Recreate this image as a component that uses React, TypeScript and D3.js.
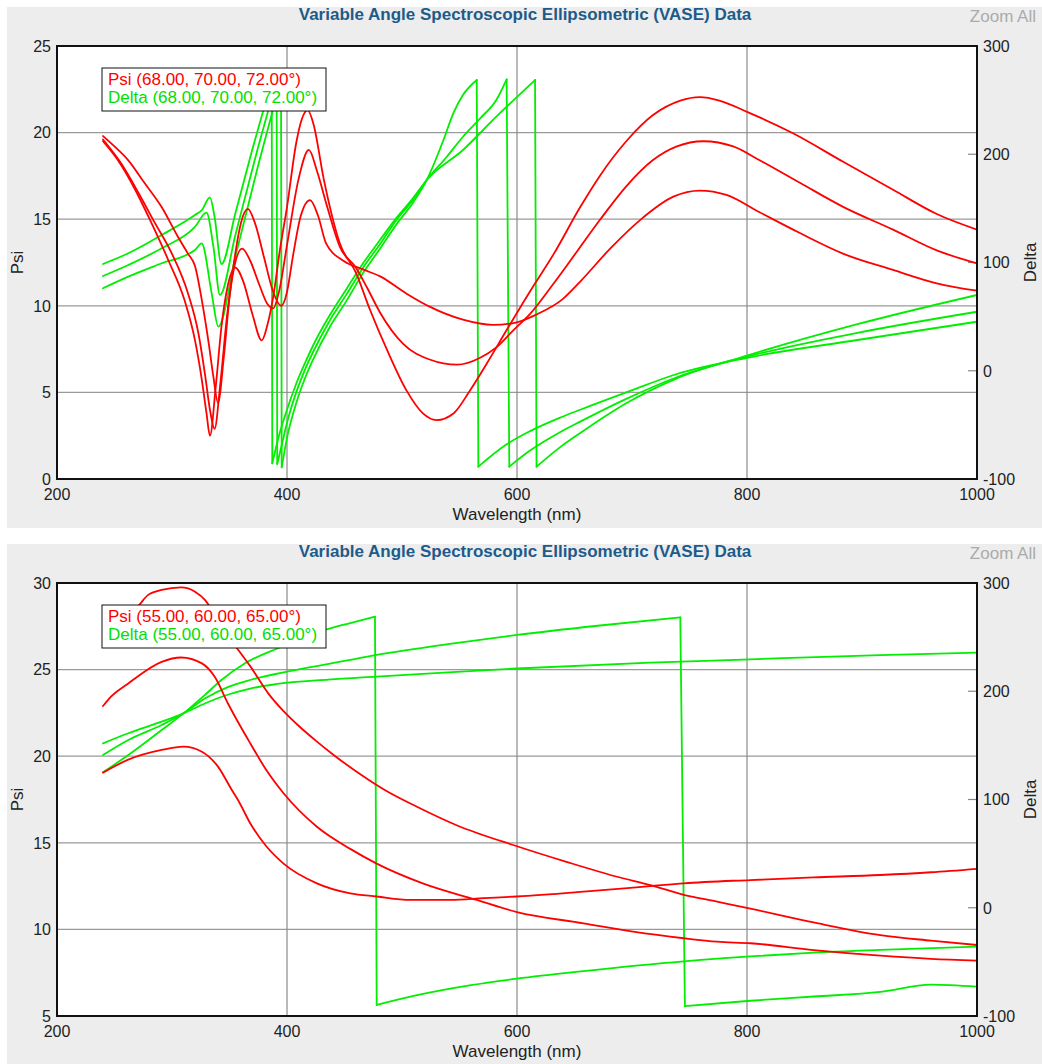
import React from "react";
import * as d3 from "d3";

type Pt = [number, number];

const TITLE = "Variable Angle Spectroscopic Ellipsometric (VASE) Data";
const ZOOM_LABEL = "Zoom All";
const X_LABEL = "Wavelength (nm)";
const PSI_LABEL = "Psi";
const DELTA_LABEL = "Delta";
const X_TICKS = [200, 400, 600, 800, 1000];
const DELTA_TICKS = [-100, 0, 100, 200, 300];
const PSI_TICKS_TOP = [0, 5, 10, 15, 20, 25];
const PSI_TICKS_BOTTOM = [5, 10, 15, 20, 25, 30];
const LEGEND_TOP = ["Psi (68.00, 70.00, 72.00°)", "Delta (68.00, 70.00, 72.00°)"];
const LEGEND_BOTTOM = ["Psi (55.00, 60.00, 65.00°)", "Delta (55.00, 60.00, 65.00°)"];

// ---------- Top chart: Psi ----------
const psiTopA: Pt[] = [
  [240, 19.5], [253, 18.4], [268, 16.7], [282, 14.8], [297, 12.6], [311, 10.3], [320, 8.0], [326, 5.7],
  [330, 3.8], [333, 2.5], [338, 5.3], [343, 8.8], [348, 11.0], [355, 12.2], [362, 11.4], [370, 9.5],
  [378, 8.0], [383, 8.9], [388, 10.5], [394, 13.3], [400, 15.7], [408, 19.4], [413, 20.8], [418, 21.3],
  [423, 20.5], [432, 17.3], [446, 13.6], [460, 11.9], [472, 9.8], [487, 7.45], [504, 5.1], [518, 3.8],
  [530, 3.4], [545, 3.8], [559, 5.1], [574, 6.7], [591, 8.6], [611, 10.8], [632, 13.0], [655, 15.7],
  [672, 17.5], [695, 19.5], [718, 21.0], [742, 21.85], [759, 22.05], [776, 21.85], [800, 21.2], [840, 19.96],
  [884, 18.3], [927, 16.7], [965, 15.3], [1000, 14.4],
];
const psiTopB: Pt[] = [
  [240, 19.6], [256, 18.2], [271, 16.5], [285, 14.8], [300, 13.0], [314, 10.7], [323, 8.4], [329, 5.9],
  [333, 4.0], [337, 2.9], [342, 5.5], [348, 9.5], [354, 12.2], [361, 13.3], [368, 12.6], [376, 11.2],
  [383, 10.1], [388, 9.85], [393, 10.8], [400, 13.5], [410, 17.3], [419, 19.0], [426, 17.8], [435, 15.7],
  [446, 13.4], [460, 12.2], [470, 11.0], [481, 9.6], [501, 7.8], [524, 6.9], [548, 6.6], [568, 7.0],
  [582, 7.6], [597, 8.6], [611, 9.5], [632, 11.3], [655, 13.4], [672, 14.95], [695, 16.9], [718, 18.4],
  [739, 19.2], [762, 19.5], [788, 19.2], [811, 18.4], [846, 17.1], [884, 15.7], [927, 14.4], [965, 13.2],
  [1000, 12.45],
];
const psiTopC: Pt[] = [
  [240, 19.8], [250, 19.2], [262, 18.4], [276, 17.1], [291, 15.7], [305, 14.0], [314, 13.0], [320, 12.3],
  [326, 10.3], [332, 7.8], [336, 5.9], [340, 4.4], [345, 7.0], [350, 10.5], [355, 13.0], [360, 14.8],
  [366, 15.6], [372, 14.8], [380, 12.8], [388, 10.8], [395, 10.0], [400, 10.8], [405, 12.8], [412, 15.2],
  [420, 16.1], [427, 15.2], [434, 13.6], [449, 12.6], [466, 12.1], [481, 11.7], [504, 10.7], [524, 9.95],
  [553, 9.2], [579, 8.9], [597, 9.0], [617, 9.5], [640, 10.4], [655, 11.4], [681, 13.3], [707, 14.95],
  [736, 16.3], [759, 16.65], [782, 16.4], [811, 15.4], [846, 14.2], [884, 13.0], [927, 12.07], [965, 11.3],
  [1000, 10.87],
];

// ---------- Top chart: Delta ----------
const deltaTopA: Pt[] = [
  [240, 98.6], [262, 108.5], [291, 125.4], [320, 143.9], [326, 148.5], [333, 160.2], [337, 142.3], [343, 98.6],
  [355, 145], [370, 205], [386.7, 268], [387.2, -85.5], [393, -60], [400, -36], [408, -12], [416, 8],
  [423, 24], [437, 51], [452, 76], [466, 99], [481, 121], [495, 141], [510, 160], [521.5, 176.2],
  [553, 203.9], [582, 234.7], [615.7, 268.6], [617, -88.6], [637, -71], [655, -57.5], [695, -30], [739, -7],
  [800, 14], [896, 43], [1000, 70],
];
const deltaTopB: Pt[] = [
  [240, 87.5], [262, 97.7], [291, 113.1], [320, 133], [330, 146], [336, 114.6], [341.7, 70], [355, 125],
  [372, 195], [391, 268], [391.5, -86.1], [396, -66], [400, -48], [408, -20], [416, 2], [423, 18],
  [437, 46], [452, 71], [466, 95], [481, 117], [495, 139], [510, 158.5], [521.5, 176.2], [539, 197.7],
  [553, 216.2], [568, 233.2], [582, 250.1], [591, 269.2], [593.3, -88.6], [611, -74], [637, -57], [655, -47],
  [695, -26], [739, -6], [800, 13], [896, 35], [1000, 54.5],
];
const deltaTopC: Pt[] = [
  [240, 76.2], [262, 86.9], [291, 99.3], [320, 111.5], [325.8, 117.7], [334.5, 71.5], [340.3, 40.7], [355, 105],
  [375, 190], [394.8, 268], [395.4, -89.2], [400, -62], [408, -30], [416, -6], [423, 11], [437, 40],
  [452, 65], [466, 90], [481, 113], [495, 135], [510, 156], [521.5, 176.2], [536, 213], [544.6, 237.8],
  [553, 254.7], [565, 268.6], [566.4, -88.6], [591, -68], [611, -56], [637, -43.5], [655, -36], [695, -20],
  [739, -3], [800, 12], [896, 28.4], [1000, 45.3],
];

// ---------- Bottom chart: Psi ----------
const psiBotA: Pt[] = [
  [240, 27.0], [255, 28.0], [271, 28.7], [279, 29.3], [291, 29.6], [308, 29.75], [320, 29.5], [329, 29.0],
  [336, 28.3], [347, 27.1], [358, 26.1], [368, 25.2], [384, 23.6], [397, 22.6], [411, 21.7], [425, 20.9],
  [440, 20.1], [465, 18.9], [485, 18.05], [513, 17.08], [548, 16.0], [600, 14.8], [643, 13.9], [687, 13.04],
  [716, 12.56], [745, 12.0], [774, 11.6], [803, 11.2], [858, 10.4], [916, 9.67], [960, 9.35], [1000, 9.1],
];
const psiBotB: Pt[] = [
  [240, 22.9], [245, 23.3], [262, 24.2], [291, 25.45], [308, 25.7], [326, 25.36], [337, 24.6], [349, 23.0],
  [358, 21.9], [368, 20.75], [382, 19.2], [397, 17.86], [426, 15.93], [455, 14.65], [478, 13.8], [518, 12.66],
  [565, 11.7], [600, 11.0], [658, 10.35], [701, 9.87], [745, 9.49], [774, 9.29], [803, 9.2], [858, 8.8],
  [916, 8.48], [960, 8.3], [1000, 8.2],
];
const psiBotC: Pt[] = [
  [240, 19.05], [262, 19.8], [291, 20.36], [310, 20.55], [326, 20.26], [340, 19.4], [352, 18.05], [358, 17.4],
  [368, 16.13], [382, 14.8], [397, 13.8], [426, 12.66], [455, 12.08], [478, 11.9], [507, 11.7], [542, 11.7],
  [571, 11.8], [600, 11.9], [658, 12.18], [716, 12.5], [745, 12.66], [803, 12.85], [858, 13.0], [916, 13.14],
  [960, 13.3], [1000, 13.5],
];

// ---------- Bottom chart: Delta ----------
const deltaBotA: Pt[] = [
  [240, 125.1], [262, 141.1], [291, 164.2], [310, 179.6], [329, 197], [343, 210.4], [363.5, 225.8], [392, 239.7],
  [433, 256.6], [455, 263], [476.5, 268.9], [478, -89.8], [513, -80.8], [560, -71.5], [600, -65.5], [658, -58.5],
  [745, -49.5], [803, -45], [858, -41.5], [916, -39], [1000, -36],
];
const deltaBotB: Pt[] = [
  [240, 141.1], [262, 155], [291, 168.8], [310, 179.6], [329, 193.5], [349, 204], [368, 210.4], [407, 219.5],
  [450, 228], [478, 233.5], [540, 243.5], [600, 252], [670, 260.5], [742, 268.3], [746, -90.8], [803, -85.9],
  [858, -82], [916, -77.7], [960, -71], [1000, -72.9],
];
const deltaBotC: Pt[] = [
  [240, 151.9], [262, 161.2], [291, 171.9], [310, 179.6], [329, 188.9], [349, 197], [368, 202.5], [390, 206.5],
  [436, 210.8], [478, 213.6], [540, 217.5], [600, 221], [716, 226.4], [803, 229.5], [916, 233.4], [1000, 235.6],
];

const FONT = "'Liberation Sans', Arial, Helvetica, sans-serif";
const W = 1042;
const H = 1064;
const PANEL_X = 7;
const PANEL_W = 1035;
const PANEL_H = 521;
const PLOT_L = 57;
const PLOT_R = 977;
const PLOT_T = 39; // relative to panel top
const PLOT_H = 433;

// split a phase-wrapped series into smooth branches plus the straight wrap connectors
function splitWraps(s: Pt[]): { branches: Pt[][]; jumps: [Pt, Pt][] } {
  const branches: Pt[][] = [[s[0]]];
  const jumps: [Pt, Pt][] = [];
  for (let i = 1; i < s.length; i++) {
    if (Math.abs(s[i][1] - s[i - 1][1]) > 250) {
      jumps.push([s[i - 1], s[i]]);
      branches.push([s[i]]);
    } else {
      branches[branches.length - 1].push(s[i]);
    }
  }
  return { branches, jumps };
}

type PanelProps = {
  id: string;
  y0: number;
  psiTicks: number[];
  psi: Pt[][];
  delta: Pt[][];
  legend: string[];
};

function Panel({ id, y0, psiTicks, psi, delta, legend }: PanelProps) {
  const top = PLOT_T;
  const bottom = PLOT_T + PLOT_H;
  const x = d3.scaleLinear().domain([X_TICKS[0], X_TICKS[X_TICKS.length - 1]]).range([PLOT_L, PLOT_R]);
  const yPsi = d3.scaleLinear().domain([psiTicks[0], psiTicks[psiTicks.length - 1]]).range([bottom, top]);
  const yDelta = d3.scaleLinear().domain([DELTA_TICKS[0], DELTA_TICKS[DELTA_TICKS.length - 1]]).range([bottom, top]);

  const psiLine = d3.line<Pt>().x((d) => x(d[0])).y((d) => yPsi(d[1])).curve(d3.curveMonotoneX);
  const deltaLine = d3.line<Pt>().x((d) => x(d[0])).y((d) => yDelta(d[1])).curve(d3.curveMonotoneX);
  const jumpLine = d3.line<Pt>().x((d) => x(d[0])).y((d) => yDelta(d[1]));

  const midY = (top + bottom) / 2;
  return (
    <g transform={`translate(0, ${y0})`} fontFamily={FONT}>
      <rect x={PANEL_X} y={0} width={PANEL_W} height={PANEL_H} fill="#ededed" />
      <text x={525} y={13} textAnchor="middle" fontSize={17} fontWeight="bold" fill="#1d5b8a">{TITLE}</text>
      <text x={1036} y={15} textAnchor="end" fontSize={17} fill="#ababab">{ZOOM_LABEL}</text>
      <defs>
        <clipPath id={`clip-${id}`}>
          <rect x={PLOT_L} y={top} width={PLOT_R - PLOT_L} height={PLOT_H} />
        </clipPath>
      </defs>
      <rect x={PLOT_L} y={top} width={PLOT_R - PLOT_L} height={PLOT_H} fill="#fff" />
      {psiTicks.slice(1, -1).map((t) => (
        <line key={`h${t}`} x1={PLOT_L} x2={PLOT_R} y1={yPsi(t)} y2={yPsi(t)} stroke="#9a9a9a" strokeWidth={1.2} />
      ))}
      {X_TICKS.slice(1, -1).map((t) => (
        <line key={`v${t}`} x1={x(t)} x2={x(t)} y1={top} y2={bottom} stroke="#8a8a8a" strokeWidth={1.2} />
      ))}
      {DELTA_TICKS.map((t) => (
        <line key={`dt${t}`} x1={PLOT_R - 9} x2={PLOT_R} y1={yDelta(t)} y2={yDelta(t)} stroke="#888" strokeWidth={1.2} />
      ))}
      <g clipPath={`url(#clip-${id})`} fill="none" strokeLinejoin="round" strokeLinecap="round">
        {delta.map((s, i) => {
          const { branches, jumps } = splitWraps(s);
          return (
            <g key={`d${i}`} stroke="#00ee00" strokeWidth={1.8}>
              {branches.map((b, j) => (
                <path key={`b${j}`} d={deltaLine(b) || ""} />
              ))}
              {jumps.map((jp, j) => (
                <path key={`j${j}`} d={jumpLine(jp) || ""} />
              ))}
            </g>
          );
        })}
        {psi.map((s, i) => (
          <path key={`p${i}`} d={psiLine(s) || ""} stroke="#ff0000" strokeWidth={1.8} />
        ))}
      </g>
      <rect x={PLOT_L} y={top} width={PLOT_R - PLOT_L} height={PLOT_H} fill="none" stroke="#111" strokeWidth={2} />
      {psiTicks.map((t) => (
        <text key={`pl${t}`} x={51} y={yPsi(t)} dy="0.36em" textAnchor="end" fontSize={16} fill="#222">{t}</text>
      ))}
      {DELTA_TICKS.map((t) => (
        <text key={`dl${t}`} x={983} y={yDelta(t)} dy="0.36em" textAnchor="start" fontSize={16} fill="#222">{t}</text>
      ))}
      {X_TICKS.map((t) => (
        <text key={`xl${t}`} x={x(t)} y={bottom + 21} textAnchor="middle" fontSize={16} fill="#222">{t}</text>
      ))}
      <text x={(PLOT_L + PLOT_R) / 2} y={bottom + 41} textAnchor="middle" fontSize={17} fill="#222">{X_LABEL}</text>
      <text transform={`translate(23, ${midY}) rotate(-90)`} textAnchor="middle" fontSize={17} fill="#222">{PSI_LABEL}</text>
      <text transform={`translate(1036, ${midY}) rotate(-90)`} textAnchor="middle" fontSize={17} fill="#222">{DELTA_LABEL}</text>
      <rect x={102} y={61} width={224} height={43} fill="#fff" stroke="#111" strokeWidth={1} />
      <text x={108} y={78} fontSize={17} fill="#ff0000">{legend[0]}</text>
      <text x={108} y={96} fontSize={17} fill="#00e000">{legend[1]}</text>
    </g>
  );
}

export default function App() {
  return (
    <svg
      width={W}
      height={H}
      viewBox={`0 0 ${W} ${H}`}
      style={{ position: "absolute", left: 0, top: 0, background: "#fff" }}
    >
      <Panel id="top" y0={7} psiTicks={PSI_TICKS_TOP} psi={[psiTopA, psiTopB, psiTopC]} delta={[deltaTopA, deltaTopB, deltaTopC]} legend={LEGEND_TOP} />
      <Panel id="bot" y0={544} psiTicks={PSI_TICKS_BOTTOM} psi={[psiBotA, psiBotB, psiBotC]} delta={[deltaBotA, deltaBotB, deltaBotC]} legend={LEGEND_BOTTOM} />
    </svg>
  );
}
